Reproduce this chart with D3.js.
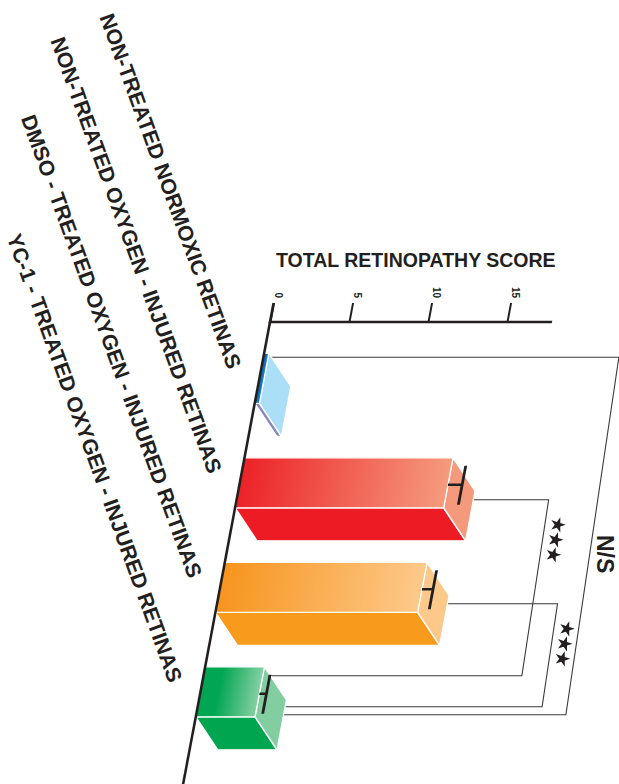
<!DOCTYPE html>
<html><head><meta charset="utf-8">
<script src="https://cdn.jsdelivr.net/npm/d3@7"></script>
<style>html,body{margin:0;padding:0;background:#fff;} svg{display:block;font-family:"Liberation Sans",Arial,Helvetica,sans-serif;}</style>
</head><body><svg id="chart" width="619" height="784"></svg>
<script>
// ---------- data ----------
const categories = [
  "NON-TREATED NORMOXIC RETINAS",
  "NON-TREATED OXYGEN - INJURED RETINAS",
  "DMSO - TREATED OXYGEN - INJURED RETINAS",
  "YC-1 - TREATED OXYGEN - INJURED RETINAS"
];
const scores = [0.3, 13.2, 12.8, 3.75];
const errors = [0, 0.9, 0.7, 0.45];
const tickValues = [0, 5, 10, 15];
const axisTitle = "TOTAL RETINOPATHY SCORE";
// significance comparisons (levels in score units)
const compFrom = [0, 1, 2];
const compTo = [3, 3, 3];
const compLabel = ["N/S", "***", "***"];
const compTop = [22.5, 19.75, 21.55];
const compBottom = [23.4, 20.15, 21.8];

// ---------- styling ----------
const faceColors = [
  {g0: "#0f4f9f", g1: "#1b8fd8", stop: 0, bottom: "#8b88c6", side: "#abdff7"},
  {g0: "#ec2227", g1: "#f59b7e", stop: 0, bottom: "#ed1c24", side: "#f4997b"},
  {g0: "#f7941d", g1: "#fdc98b", stop: 0, bottom: "#f89b1c", side: "#fdc98b"},
  {g0: "#00a651", g1: "#86d0a3", stop: 0.3, bottom: "#00a54f", side: "#83cea1"}
];
// bracket anchor fractions within bands, start at bar ("b") or error end ("e")
const compTopFrac = [0.08, 0.84, 0.83];
const compBotFrac = [0.96, 0.18, 0.80];
const compBotStart = ["b", "e", "b"];

const W = 619, H = 784;
const X0 = 270, Y0 = 322;       // origin of value axis
const K = 0.188;                 // slant of the category axis
const SKEW = Math.atan(K) * 180 / Math.PI;
const DEPTH = {x: 22, y: 33};    // screen offset of 3D depth
const DLX = DEPTH.x + K * DEPTH.y, DLY = DEPTH.y;
const axisInk = "#231f20";

const svg = d3.select("#chart");
const defs = svg.append("defs");

const x = d3.scaleLinear().domain([0, 18]).range([0, 284.4]);
const y = d3.scaleBand().domain(d3.range(categories.length))
  .range([31.3, 394.8]).paddingInner(0.5215).paddingOuter(0);
const bw = y.bandwidth();

function toScreen(u, v) { return [X0 + u - K * v, Y0 + v]; }

// gradients
faceColors.forEach((c, i) => {
  const lg = defs.append("linearGradient").attr("id", "grad" + i)
    .attr("x1", 0).attr("x2", 1).attr("y1", 0).attr("y2", 0);
  lg.append("stop").attr("offset", 0).attr("stop-color", c.g0);
  lg.append("stop").attr("offset", c.stop).attr("stop-color", c.g0);
  lg.append("stop").attr("offset", 1).attr("stop-color", c.g1);
});

// title
svg.append("text").attr("x", 415.8).attr("y", 266.7)
  .attr("text-anchor", "middle").attr("font-weight", "bold")
  .attr("font-size", 19.5).attr("fill", axisInk).text(axisTitle);

// skewed plot group
const g = svg.append("g").attr("transform", `translate(${X0},${Y0}) skewX(${-SKEW})`);

// brackets (behind bars)
const brackets = g.append("g").attr("fill", "none").attr("stroke", "#3a3a3a").attr("stroke-width", 1.1);
compFrom.forEach((f, j) => {
  const t = compTo[j];
  const vTop = y(f) + bw * compTopFrac[j];
  const vBot = y(t) + bw * compBotFrac[j];
  const startTop = x(scores[f]);
  const startBot = compBotStart[j] === "e" ? x(scores[t] + errors[t]) : x(scores[t]);
  brackets.append("path").attr("d", d3.line()([
    [startTop, vTop], [x(compTop[j]), vTop], [x(compBottom[j]), vBot], [startBot, vBot]
  ]));
});

// bars
categories.forEach((c, i) => {
  const y0 = y(i), y1 = y(i) + bw, w = x(scores[i]);
  const bar = g.append("g").attr("stroke", "#fff").attr("stroke-width", 1.3).attr("stroke-linejoin", "round");
  const fc = faceColors[i];
  bar.append("path").attr("fill", fc.bottom).attr("d", d3.line()([
    [0, y1], [w, y1], [w + DLX, y1 + DLY], [DLX, y1 + DLY]
  ]) + "Z");
  bar.append("path").attr("fill", fc.side).attr("d", d3.line()([
    [w, y0], [w + DLX, y0 + DLY], [w + DLX, y1 + DLY], [w, y1]
  ]) + "Z");
  bar.append("rect").attr("x", 0).attr("y", y0).attr("width", w).attr("height", bw)
    .attr("fill", `url(#grad${i})`);
  if (errors[i] > 0) {
    const xe = x(scores[i] + errors[i]);
    g.append("line").attr("x1", w).attr("x2", xe).attr("y1", y0 + 27).attr("y2", y0 + 27)
      .attr("stroke", axisInk).attr("stroke-width", 2.4);
    g.append("line").attr("x1", xe).attr("x2", xe).attr("y1", y0 + 8).attr("y2", y0 + 47)
      .attr("stroke", axisInk).attr("stroke-width", 2.8);
  }
});

// value axis
const axisG = g.append("g").call(d3.axisTop(x).tickValues(tickValues).tickSize(19).tickSizeOuter(0).tickFormat(d3.format("d")));
axisG.select(".domain").remove();
axisG.selectAll(".tick line").attr("stroke", axisInk).attr("stroke-width", 2);
axisG.selectAll(".tick text")
  .attr("y", null).attr("dy", null).attr("x", null)
  .attr("text-anchor", "end")
  .attr("transform", `translate(0,-24) skewX(${SKEW}) rotate(90)`)
  .attr("font-size", 10).attr("font-weight", "bold").attr("fill", axisInk)
  .attr("font-family", "Liberation Sans, Arial, sans-serif");
g.append("line").attr("x1", -1.2).attr("x2", x(17.85)).attr("y1", 0).attr("y2", 0)
  .attr("stroke", axisInk).attr("stroke-width", 2.6);
g.append("line").attr("x1", 0).attr("x2", 0).attr("y1", -19).attr("y2", H - Y0 + 2)
  .attr("stroke", axisInk).attr("stroke-width", 2.6);

// significance marks
const star = d3.symbol().type(d3.symbolStar).size(72);
compFrom.forEach((f, j) => {
  const t = compTo[j];
  const vTop = y(f) + bw * compTopFrac[j];
  const vBot = y(t) + bw * compBotFrac[j];
  const levelU = v => x(compTop[j]) + (x(compBottom[j]) - x(compTop[j])) * (v - vTop) / (vBot - vTop);
  if (compLabel[j] === "N/S") {
    const v = (vTop + vBot) / 2 + 18;
    const [sx, sy] = toScreen(levelU(v) + 7.5, v);
    svg.append("text").attr("transform", `translate(${sx},${sy}) rotate(90)`)
      .attr("text-anchor", "middle").attr("font-weight", "bold").attr("font-size", 23)
      .attr("fill", axisInk).text(compLabel[j]);
  } else {
    const vc = vTop + 40;
    [-15, 0, 15].forEach(dv => {
      const v = vc + dv;
      const [sx, sy] = toScreen(levelU(v) + 13, v);
      svg.append("path").attr("d", star()).attr("fill", axisInk)
        .attr("transform", `translate(${sx},${sy}) rotate(90)`);
    });
  }
});

// category labels
categories.forEach((c, i) => {
  const v = y(i) + 17;
  const [ax, ay] = toScreen(-33, v);
  svg.append("text").attr("transform", `translate(${ax},${ay}) rotate(70)`)
    .attr("text-anchor", "end").attr("font-weight", "bold").attr("font-size", 21.3)
    .attr("fill", axisInk).text(c);
});
</script></body></html>
